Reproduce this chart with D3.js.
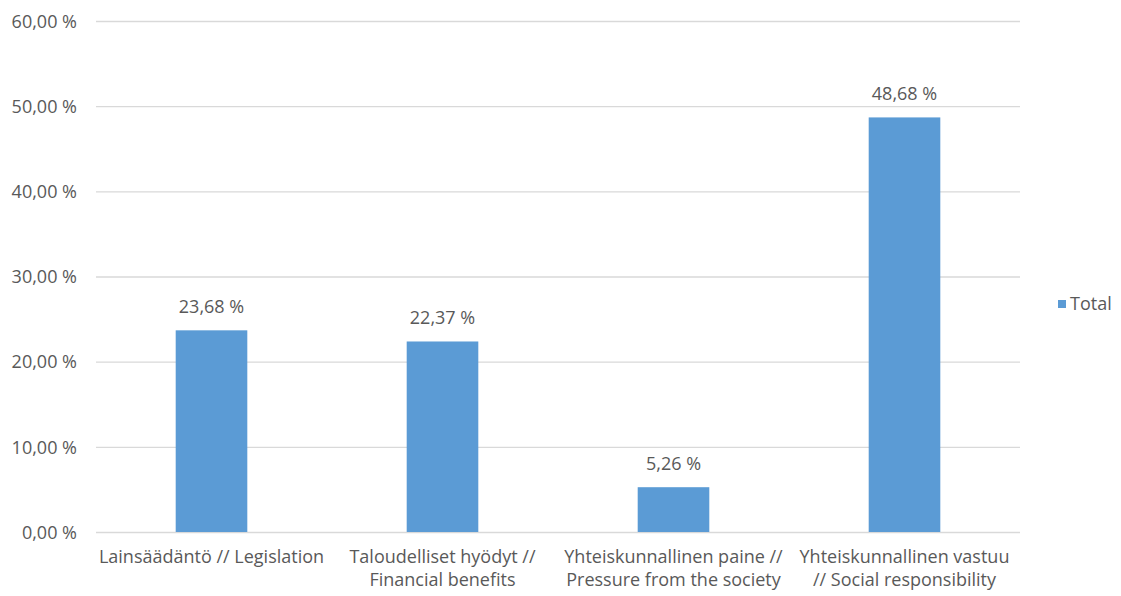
<!DOCTYPE html>
<html>
<head>
<meta charset="utf-8">
<script src="https://cdn.jsdelivr.net/npm/d3@7"></script>
<style>
  html, body { margin: 0; padding: 0; background: #fff; }
  svg { display: block; }
  text { font-family: "Open Sans", "Noto Sans", sans-serif; fill: #595959; }
</style>
</head>
<body>
<svg id="chart" width="1121" height="596"></svg>
<script>
// Category labels (each entry is the list of wrapped lines)
const categories = [
  ["Lainsäädäntö // Legislation"],
  ["Taloudelliset hyödyt //", "Financial benefits"],
  ["Yhteiskunnallinen paine //", "Pressure from the society"],
  ["Yhteiskunnallinen vastuu", "// Social responsibility"]
];
const values = [23.68, 22.37, 5.26, 48.68];
const yTicks = [0, 10, 20, 30, 40, 50, 60];
const seriesName = "Total";

const fmt = v => v.toFixed(2).replace(".", ",") + " %";
const fontSize = "18px";

const svg = d3.select("#chart");
const plot = { left: 96, right: 1020, top: 21, bottom: 532 };

const x = d3.scaleBand()
  .domain(d3.range(categories.length))
  .range([plot.left, plot.right])
  .paddingInner(0.69)
  .paddingOuter(0.345);

const y = d3.scaleLinear()
  .domain([0, 60])
  .range([plot.bottom, plot.top]);

// Horizontal gridlines
svg.append("g")
  .selectAll("line")
  .data(yTicks)
  .join("line")
  .attr("x1", plot.left)
  .attr("x2", plot.right)
  .attr("y1", d => y(d) + 0.5)
  .attr("y2", d => y(d) + 0.5)
  .attr("stroke", "#d9d9d9")
  .attr("stroke-width", 1.3);

// Y axis labels
const yAxis = d3.axisLeft(y).tickValues(yTicks).tickFormat(fmt).tickSize(0).tickPadding(0);
const gy = svg.append("g").attr("transform", `translate(77,0)`).call(yAxis);
gy.select(".domain").remove();
gy.selectAll("text")
  .attr("fill", "#595959")
  .style("font-family", '"Open Sans", "Noto Sans", sans-serif')
  .style("font-size", fontSize)
  .attr("dy", "0.35em");

// Bars
svg.append("g")
  .selectAll("rect")
  .data(values)
  .join("rect")
  .attr("x", (d, i) => x(i))
  .attr("width", x.bandwidth())
  .attr("y", d => y(d))
  .attr("height", d => y(0) - y(d))
  .attr("fill", "#5b9bd5");

// Value labels
svg.append("g")
  .selectAll("text")
  .data(values)
  .join("text")
  .attr("x", (d, i) => x(i) + x.bandwidth() / 2)
  .attr("y", d => y(d) - 17)
  .attr("text-anchor", "middle")
  .style("font-size", fontSize)
  .text(fmt);

// Category labels
const xl = svg.append("g")
  .selectAll("text")
  .data(categories)
  .join("text")
  .attr("x", (d, i) => x(i) + x.bandwidth() / 2)
  .attr("y", 563)
  .attr("text-anchor", "middle")
  .style("font-size", fontSize);
xl.selectAll("tspan")
  .data(d => d)
  .join("tspan")
  .attr("x", function () { return d3.select(this.parentNode).attr("x"); })
  .attr("dy", (d, i) => i === 0 ? 0 : 23)
  .text(d => d);

// Legend
const legend = svg.append("g").attr("transform", "translate(1058,300)");
legend.append("rect").attr("width", 8).attr("height", 8).attr("fill", "#5b9bd5");
legend.append("text").attr("x", 12).attr("y", 4).attr("dy", "0.35em")
  .style("font-size", fontSize).text(seriesName);
</script>
</body>
</html>
